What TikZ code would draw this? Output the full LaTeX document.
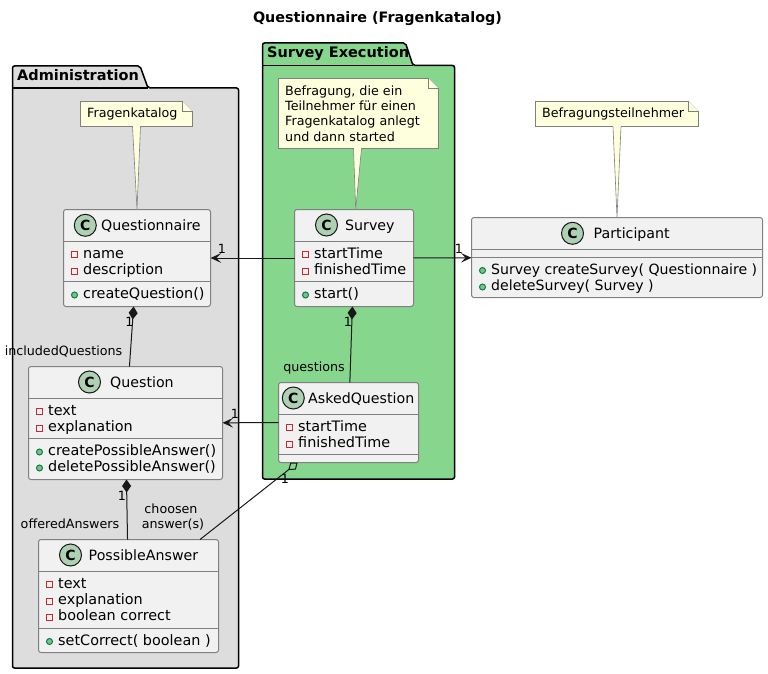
\documentclass[tikz,border=0pt]{standalone}
\usepackage{fontspec}
\setmainfont{DejaVu Sans}
\usetikzlibrary{arrows.meta, calc}
\definecolor{classfill}{HTML}{F1F1F1}
\definecolor{classedge}{HTML}{808080}
\definecolor{iconfill}{HTML}{ADD1B2}
\definecolor{adminfill}{HTML}{DDDDDD}
\definecolor{surveyfill}{HTML}{87D68D}
\definecolor{notefill}{HTML}{FEFFDD}
\definecolor{darkline}{HTML}{181818}
\newcommand{\tightfont}{\fontsize{14.1}{16.3}\selectfont}
\tikzset{
  classbox/.style={draw=classedge, fill=classfill, line width=1pt, rounded corners=2.5pt, inner sep=0pt, outer sep=0pt},
  classline/.style={draw=classedge, line width=1pt},
  classicon/.style={circle, draw=darkline, fill=iconfill, line width=1pt, minimum size=22pt, inner sep=0pt, font=\fontsize{14}{14}\selectfont\bfseries},
  classtitle/.style={anchor=base west, inner sep=0pt, font=\fontsize{14.2}{16.3}\selectfont},
  member/.style={anchor=base west, inner sep=0pt, text height=10pt, text depth=3pt, font=\fontsize{14.4}{16.3}\selectfont},
  privmark/.style={rectangle, draw={rgb,255:red,200;green,41;blue,48}, line width=1pt, minimum size=6pt, inner sep=0pt, outer sep=0pt},
  pubmark/.style={circle, draw={rgb,255:red,3;green,128;blue,72}, fill={rgb,255:red,132;green,190;blue,132}, line width=1pt, minimum size=6pt, inner sep=0pt, outer sep=0pt},
  pkgbox/.style={draw=black, line width=1.5pt, rounded corners=2pt},
  pkgname/.style={anchor=base west, inner sep=0pt, font=\fontsize{14.5}{16.3}\selectfont\bfseries},
  notebox/.style={inner sep=0pt, outer sep=0pt},
  noteedge/.style={draw=classedge, fill=notefill, line width=0.6pt},
  notetext/.style={anchor=west, align=left, inner xsep=6.5pt, inner ysep=0pt, font=\fontsize{12.7}{15.2}\selectfont},
  tag/.style={anchor=base, inner sep=0pt, font=\fontsize{12.7}{15}\selectfont},
  link/.style={draw=darkline, line width=1pt},
  nav/.style={-{Stealth[length=10.5pt, width=9.5pt, inset=4.5pt, sep=0pt]}},
  comp/.style={{Diamond[length=13pt, width=9pt, sep=0pt]}-},
  aggr/.style={{Diamond[open, length=12pt, width=8.8pt, sep=0pt]}-}
}

\begin{document}
\begin{tikzpicture}[x=1pt, y=-1pt]
    \useasboundingbox (0,0) rectangle (768,674);
    \node (diagramTitle) [anchor=base, inner sep=0pt, font=\fontsize{14.35}{16.3}\selectfont\bfseries] at (377.5,23) {Questionnaire (Fragenkatalog)};

    % Packages
    \draw[pkgbox, fill=adminfill] (12.5,66) -- (140,66) -- (148,88) -- (238.5,88) -- (238.5,668) -- (12.5,668) -- cycle;
    \draw[pkgbox] (12.5,88) -- (148,88);
    \node (pkgAdministration) [pkgname] at (17,81) {Administration};
    \draw[pkgbox, fill=surveyfill] (262.5,43) -- (405.5,43) -- (413,65.5) -- (454.5,65.5) -- (454.5,479) -- (262.5,479) -- cycle;
    \draw[pkgbox] (262.5,65.5) -- (413,65.5);
    \node (pkgSurvey) [pkgname] at (267,58) {Survey Execution};

    % Class boxes
    \foreach \nm/\cx/\cy/\ww/\hh in {Questionnaire/137/258/147/97, Question/125.5/423/194/113, PossibleAnswer/128.5/596/180/113, Survey/354/258/119/97, AskedQuestion/348.5/422.5/140/80, Participant/617/257.5/291/80} {
        \node (\nm) [classbox, minimum width=\ww pt, minimum height=\hh pt] at (\cx,\cy) {};
    }

    % Section lines
    \foreach \nm/\yy in {Questionnaire/241, Questionnaire/281, Question/398.5, Question/438.5, PossibleAnswer/571.5, PossibleAnswer/628.5, Survey/241.5, Survey/281.5, AskedQuestion/414.5, AskedQuestion/454.5, Participant/249.5, Participant/257.5} {
        \draw[classline] (\nm.west |- 0,\yy) -- (\nm.east |- 0,\yy);
    }

    % Icons and class names
    \foreach \nm/\ix/\iy/\tx/\ty in {Questionnaire/85.3/225.3/101/230, Question/89.5/382/110/387.5, PossibleAnswer/70.5/555/88.5/560.5, Survey/326.5/225/345/230.5, AskedQuestion/293.3/398/308/403.5, Participant/572.5/233.3/593.5/238.5} {
        \node (icon\nm) [classicon] at (\ix,\iy) {C};
        \node (title\nm) [classtitle] at (\tx,\ty) {\nm};
    }

    % Fields and methods
    \foreach \nm/\kind/\xx/\yy/\txt in {
        qnName/privmark/83/258/name, qnDescription/privmark/83/274.5/description, qnCreate/pubmark/83/298.5/createQuestion(),
        quText/privmark/48/415/text, quExplanation/privmark/48/431.5/explanation, quCreate/pubmark/48/455.5/createPossibleAnswer(), quDelete/pubmark/48/471.5/deletePossibleAnswer(),
        paText/privmark/58/588/text, paExplanation/privmark/58/604.5/explanation, paCorrect/privmark/58/620.5/boolean correct, paSet/pubmark/58/645/setCorrect( boolean ),
        suStart/privmark/314/258/startTime, suFinished/privmark/314/274.5/finishedTime, suRun/pubmark/314/298.5/start(),
        aqStart/privmark/298/431/startTime, aqFinished/privmark/298/447.5/finishedTime,
        ptCreate/pubmark/491/274/\tightfont Survey createSurvey( Questionnaire ), ptDelete/pubmark/491/290.5/\tightfont deleteSurvey( Survey )} {
        \node (\nm) [member] at (\xx,\yy) {\txt};
        \node (\nm Mark) [\kind] at ($(\nm.west)+(-8.5,0)$) {};
    }

    % Notes with their tails
    \foreach \nm/\target/\cx/\cy/\ww/\hh/\dx/\txt in {
        noteQuestionnaire/Questionnaire.north/136.5/114/112/25/0/Fragenkatalog,
        noteSurvey/Survey.88/358.5/113.5/160/70/-1/{Befragung, die ein\\Teilnehmer für einen\\Fragenkatalog anlegt\\und dann started},
        noteParticipant/Participant.north/617/114/163/25/0/Befragungsteilnehmer} {
        \node (\nm) [notebox, minimum width=\ww pt, minimum height=\hh pt] at (\cx,\cy) {};
        \draw[noteedge] (\nm.south west) -- (\nm.north west) -- ($(\nm.north east)+(-10,0)$) -- ($(\nm.north east)+(0,10)$) -- (\nm.south east) -- cycle;
        \draw[noteedge] ($(\nm.north east)+(-10,0)$) -- ($(\nm.north east)+(-10,10)$) -- ($(\nm.north east)+(0,10)$);
        \draw[noteedge] ($(\nm.south)+(\dx-4,0)$) -- (\target) -- ($(\nm.south)+(\dx+4,0)$);
        \fill[notefill] ($(\nm.south)+(\dx-3.6,-0.5)$) rectangle ($(\nm.south)+(\dx+3.6,0.6)$);
        \node (\nm Text) [notetext] at (\nm.west) {\txt};
    }

    % Connectors
    \draw[link, nav] (Survey) -- (Questionnaire);
    \draw[link, nav] (Survey) -- (Participant);
    \draw[link, nav] (AskedQuestion) -- (Question);
    \draw[link, comp] (Questionnaire) -- (Question);
    \draw[link, comp] (Question) -- (PossibleAnswer);
    \draw[link, comp] (Survey) -- (AskedQuestion);
    \draw[link, aggr] (AskedQuestion) -- (PossibleAnswer);

    % Connector labels
    \foreach \nm/\xx/\yy/\txt in {
        oneQuestionnaire/222/253/1, oneParticipant/459/253/1, oneIncluded/129.5/326/1, tagIncluded/63.5/355/includedQuestions,
        oneQuestion/235/418/1, oneOffered/122/500/1, tagOffered/70/528/offeredAnswers, tagChoosen/171/513/choosen, tagAnswer/173/528/answer(s),
        oneQuestions/348/326/1, tagQuestions/314/371/questions, oneChosen/285/483/1} {
        \node (\nm) [tag] at (\xx,\yy) {\txt};
    }
\end{tikzpicture}
\end{document}
